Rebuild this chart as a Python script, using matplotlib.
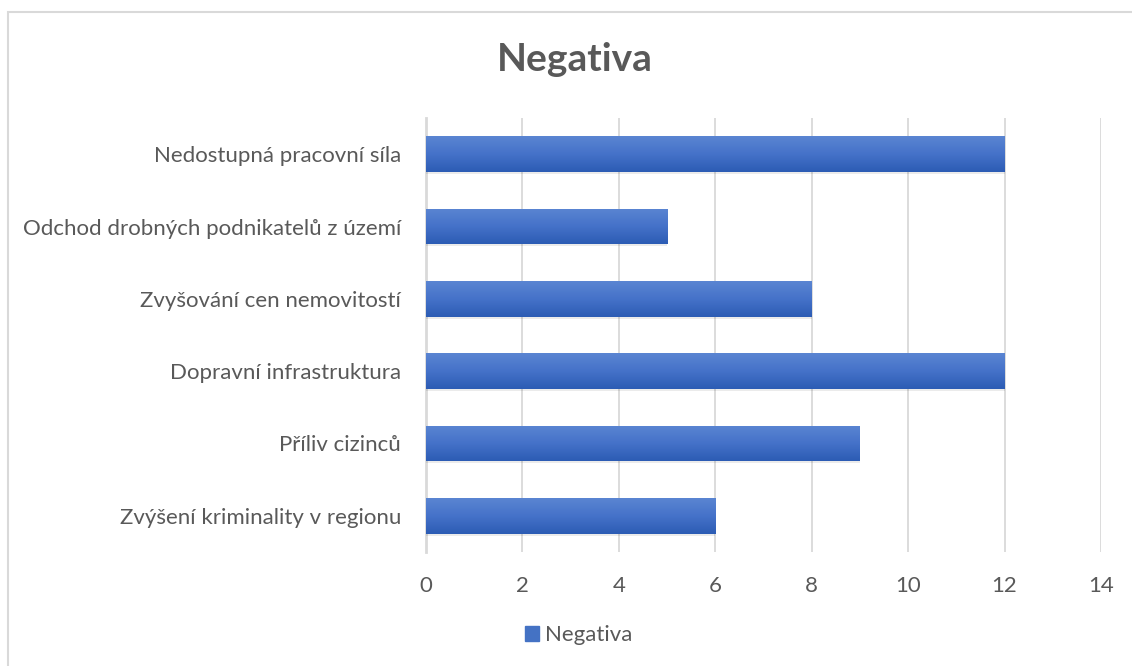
import matplotlib
matplotlib.use("Agg")
import matplotlib.pyplot as plt
import matplotlib.patches as mpatches
import numpy as np

# Данные
kategorie = ["Zvýšení kriminality v regionu", "Příliv cizinců", "Dopravní infrastruktura",
             "Zvyšování cen nemovitostí", "Odchod drobných podnikatelů z území",
             "Nedostupná pracovní síla"]
hodnoty = [6, 9, 12, 8, 5, 12]
x_ticks = [0, 2, 4, 6, 8, 10, 12, 14]

plt.rcParams['font.family'] = ['Lato', 'DejaVu Sans']
seda = "#595959"

fig = plt.figure(figsize=(11.32, 6.66), dpi=100)
ax = fig.add_axes([0.3763, 0.1712, 0.5963, 0.6516])

y = np.arange(len(kategorie))
bars = ax.barh(y, hodnoty, height=0.49, color="#4472c4", zorder=3)

# Градиент и тень у столбцов
grad = np.linspace(0, 1, 64).reshape(-1, 1)
cmap = matplotlib.colors.LinearSegmentedColormap.from_list("g", ["#2c5cb4", "#4572c9", "#5a85d2"])
for b in bars:
    x0, y0 = b.get_x(), b.get_y()
    w, h = b.get_width(), b.get_height()
    sh = mpatches.Rectangle((x0, y0 - 0.03), w, h, color="#000000", alpha=0.08, zorder=2, lw=0)
    ax.add_patch(sh)
    im = ax.imshow(grad, extent=(x0, x0 + w, y0, y0 + h), cmap=cmap, aspect="auto",
                   origin="lower", zorder=4)
    im.set_clip_path(b)

ax.set_xlim(0, 14)
ax.set_ylim(-0.5, len(kategorie) - 0.5)
ax.set_xticks(x_ticks)
ax.set_yticks(y)
ax.set_yticklabels(kategorie)
ax.tick_params(axis="both", length=0, labelsize=16, labelcolor=seda)
ax.tick_params(axis="x", pad=17)
ax.tick_params(axis="y", pad=18)

ax.grid(axis="x", color="#d9d9d9", lw=1.3, zorder=0)
for s in ["top", "right", "bottom"]:
    ax.spines[s].set_visible(False)
ax.spines["left"].set_color("#d9d9d9")
ax.spines["left"].set_linewidth(2)
ax.spines["left"].set_zorder(1)

fig.text(0.508, 0.91, "Negativa", ha="center", va="center", fontsize=28,
         fontweight="bold", color=seda)

h = mpatches.Patch(color="#4472c4")
fig.legend([h], ["Negativa"], loc="center", bbox_to_anchor=(0.511, 0.046), frameon=False,
           fontsize=16, labelcolor=seda, handlelength=0.65, handleheight=0.65,
           handletextpad=0.25)

# Рамка диаграммы
fig.patches.append(mpatches.Rectangle((0.0075, -0.1), 1.2, 1.1 - 12 / 666, fill=False,
                                      edgecolor="#d9d9d9", lw=1.5, transform=fig.transFigure))

fig.savefig("out.png", dpi=100)
